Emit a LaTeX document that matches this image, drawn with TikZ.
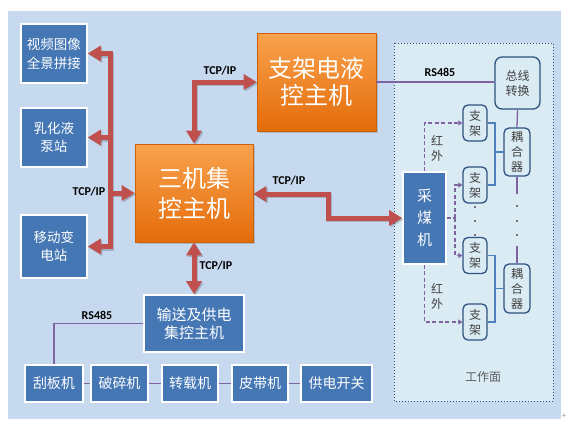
\documentclass[tikz,border=0pt]{standalone}
\usepackage{fontspec}
\setmainfont{Noto Sans CJK SC}
\newfontfamily\latinfont{Carlito}
\usetikzlibrary{arrows.meta,shadows,calc}
\definecolor{bgc}{HTML}{C6D9EF}
\definecolor{workc}{HTML}{DAEBF4}
\definecolor{bboxc}{HTML}{4577B5}
\definecolor{redc}{HTML}{C0504D}
\definecolor{purpc}{HTML}{8064A2}
\definecolor{lbluec}{HTML}{4F81BD}
\definecolor{dkbc}{HTML}{2F5281}
\definecolor{orL}{HTML}{F9A24E}
\definecolor{orD}{HTML}{E46C0A}
\definecolor{txtg}{HTML}{404040}
\tikzset{
  bluebox/.style={draw=white, line width=1.6pt, fill=bboxc, text=white, align=center, inner sep=0pt,
    drop shadow={shadow xshift=1.2pt, shadow yshift=-1.2pt, opacity=0.35}},
  orbox/.style={draw=orD!90!black, line width=0.6pt, top color=orL, bottom color=orD, text=white, align=center, inner sep=0pt,
    drop shadow={shadow xshift=1.5pt, shadow yshift=-1.5pt, opacity=0.35},
    font=\fontsize{24}{29}\selectfont},
  smallbox/.style={draw=dkbc, line width=1.3pt, rounded corners=5pt, fill=workc, text=txtg, align=center, inner sep=0pt,
    font=\fontsize{12}{15}\selectfont},
  redbase/.style={draw=redc, line width=5pt, line join=miter},
  redarrow/.style={redbase, {Triangle[width=15pt,length=13pt]}-{Triangle[width=15pt,length=13pt]}},
  redone/.style={redbase, -{Triangle[width=15pt,length=13pt]}},
  shad/.style={draw=black, opacity=0.18, transform canvas={shift={(1.5pt,-1.5pt)}}},
  purpline/.style={draw=purpc, line width=1.3pt},
  blueline/.style={draw=lbluec, line width=1.1pt},
  dasharrow/.style={draw=purpc, line width=1.6pt, dash pattern=on 4pt off 2.5pt, -{Triangle[width=5pt,length=4pt]}},
  dashline/.style={draw=purpc, line width=1.6pt, dash pattern=on 4pt off 2.5pt},
  lbl/.style={font=\latinfont\bfseries\fontsize{12}{14}\selectfont, text=black, inner sep=0pt},
  dotc/.style={fill=black, circle, inner sep=0pt, minimum size=1.6pt},
}
\begin{document}
\begin{tikzpicture}[x=1pt,y=-1pt]
\useasboundingbox (0,0) rectangle (566,423);
\fill[white] (0,0) rectangle (566,423);
\fill[bgc] (8,11) rectangle (561,419);
\draw[dkbc, line width=1pt, dotted, fill=workc] (394,43) rectangle (553,401);

% left boxes
\node[bluebox, minimum width=66pt, minimum height=59pt, font=\fontsize{13.5}{19}\selectfont] (v1) at (54,53.5) {视频图像\\全景拼接};
\node[bluebox, minimum width=66pt, minimum height=59pt, font=\fontsize{13.5}{18}\selectfont] (v2) at (54,137.5) {乳化液\\泵站};
\node[bluebox, minimum width=66pt, minimum height=63pt, font=\fontsize{13.5}{18}\selectfont] (v3) at (54,246.5) {移动变\\电站};

% orange boxes
\node[orbox, minimum width=118pt, minimum height=98pt, font=\fontsize{24}{30}\selectfont] (sanji) at (194,193) {三机集\\控主机};
\node[orbox, minimum width=119pt, minimum height=98pt, font=\fontsize{24}{27}\selectfont] (zhijia) at (316.5,82) {支架电液\\控主机};

% transport host
\node[bluebox, minimum width=100pt, minimum height=57pt, font=\fontsize{15}{18}\selectfont] (shusong) at (194,323.5) {输送及供电\\集控主机};

% bottom row
\node[bluebox, minimum width=58pt, minimum height=37pt, font=\fontsize{14}{16}\selectfont] (gua) at (54,383.5) {刮板机};
\node[bluebox, minimum width=57pt, minimum height=37pt, font=\fontsize{14}{16}\selectfont] (posui) at (119.5,383.5) {破碎机};
\node[bluebox, minimum width=56pt, minimum height=37pt, font=\fontsize{14}{16}\selectfont] (zhuanzai) at (190,383.5) {转载机};
\node[bluebox, minimum width=56pt, minimum height=37pt, font=\fontsize{14}{16}\selectfont] (pidai) at (260,383.5) {皮带机};
\node[bluebox, minimum width=71pt, minimum height=37pt, font=\fontsize{14}{16}\selectfont] (gongdian) at (336.5,383.5) {供电开关};

% working face
\node[bluebox, minimum width=43pt, minimum height=92pt, font=\fontsize{15}{22}\selectfont] (caimei) at (424.5,218) {采\\煤\\机};
\node[smallbox, minimum width=45pt, minimum height=52pt, rounded corners=7pt] (zongxian) at (517.5,83) {总线\\转换};
\node[smallbox, minimum width=24pt, minimum height=36pt] (zj1) at (475,123) {支\\架};
\node[smallbox, minimum width=24pt, minimum height=36pt] (zj2) at (475,185) {支\\架};
\node[smallbox, minimum width=24pt, minimum height=36pt] (zj3) at (475,255.5) {支\\架};
\node[smallbox, minimum width=24pt, minimum height=36pt] (zj4) at (475,322) {支\\架};
\node[smallbox, minimum width=26pt, minimum height=48pt] (oh1) at (517,152) {耦\\合\\器};
\node[smallbox, minimum width=26pt, minimum height=49pt] (oh2) at (517,288.5) {耦\\合\\器};
\node[text=txtg!85!white, font=\fontsize{12}{14}\selectfont, inner sep=0pt] (gzm) at (483,377) {工作面};

% red connectors (shadows first)
\coordinate (bt) at (110,246.5);
\coordinate (k1) at (328,194);
\coordinate (k2) at (328,218);
\draw[redarrow, shad] (v1.east) -| (bt) -- (v3.east);
\draw[redone, shad] (bt |- v2.east) -- (v2.east);
\draw[redone, shad] (bt |- sanji.west) -- (sanji.west);
\draw[redarrow, shad] (sanji.north) |- (zhijia.west);
\draw[redarrow, shad] (sanji.east |- k1) -- (k1) -- (k2) -- (k2 -| caimei.west);
\draw[redarrow, shad] (sanji.south) -- (shusong.north);

\draw[redarrow] (v1.east) -| (bt) -- (v3.east);
\draw[redone] (bt |- v2.east) -- (v2.east);
\draw[redone] (bt |- sanji.west) -- (sanji.west);
\draw[redarrow] (sanji.north) |- (zhijia.west);
\draw[redarrow] (sanji.east |- k1) -- (k1) -- (k2) -- (k2 -| caimei.west);
\draw[redarrow] (sanji.south) -- (shusong.north);

\node[lbl] (t1) at (89,192) {TCP/IP};
\node[lbl] (t2) at (220,71) {TCP/IP};
\node[lbl] (t3) at (289,181) {TCP/IP};
\node[lbl] (t4) at (216,266) {TCP/IP};
\node[lbl] (r1) at (440,72) {RS485};
\node[lbl] (r2) at (97,315) {RS485};

% purple connectors
\draw[purpline] (zhijia.east) -- (zhijia.east -| zongxian.west);
\draw[purpline] (shusong.west) -| (gua.north);
\draw[purpline] (gua.east) -- (posui.west);
\draw[purpline] (posui.east) -- (zhuanzai.west);
\draw[purpline] (zhuanzai.east) -- (pidai.west);
\draw[purpline] (pidai.east) -- (gongdian.west);
\draw[purpline] (zongxian.south) -- (oh1.north);
\coordinate (c1) at (517,194);
\coordinate (c2) at (517,246);
\draw[purpline] (oh1.south) -- (c1);
\draw[purpline] (c2) -- (oh2.north);
\node[dotc] (d1) at (517,206) {};
\node[dotc] (d2) at (517,221) {};
\node[dotc] (d3) at (517,235) {};
\node[dotc] (e1) at (475,207) {};
\node[dotc] (e2) at (475,221) {};
\node[dotc] (e3) at (475,235) {};

% blue brackets
\coordinate (b1) at (495,152);
\draw[blueline] (zj1.east) -| (b1) |- (zj2.east);
\draw[blueline] (b1) -- (oh1.west);
\coordinate (b2) at (495,288.5);
\draw[blueline] (zj3.east) -| (b2) |- (zj4.east);
\draw[blueline] (b2) -- (oh2.west);

% infrared dashed
\draw[dasharrow] (caimei.north) |- (zj1.west);
\coordinate (sp) at (455,218);
\draw[dashline] (caimei.east) -- (sp);
\draw[dasharrow] (sp) |- (zj2.west);
\draw[dasharrow] (sp) |- (zj3.west);
\draw[dasharrow] (caimei.south) |- (zj4.west);
\node[text=txtg, font=\fontsize{12}{15}\selectfont, align=center, inner sep=0pt] (hw1) at (437,148) {红\\外};
\node[text=txtg, font=\fontsize{12}{15}\selectfont, align=center, inner sep=0pt] (hw2) at (437,296) {红\\外};

\node[text=gray, font=\fontsize{7}{8}\selectfont, inner sep=0pt] (plus) at (564,416) {+};
\end{tikzpicture}
\end{document}
